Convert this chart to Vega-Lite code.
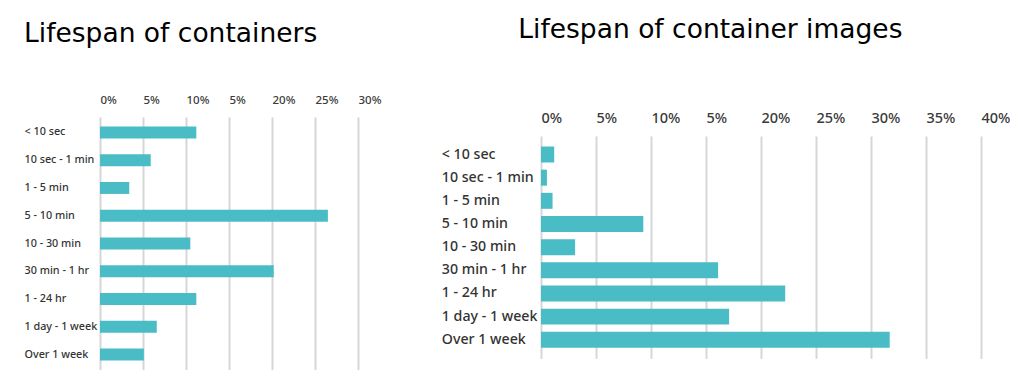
{
  "$schema": "https://vega.github.io/schema/vega-lite/v6.json",
  "padding": {"left": 24, "top": 16, "right": 0, "bottom": 0},
  "spacing": 60,
  "background": "white",
  "config": {"view": {"stroke": null}},
  "datasets": {
    "containers": [
      {"lifespan": "< 10 sec", "pct": 11.2},
      {"lifespan": "10 sec - 1 min", "pct": 5.9},
      {"lifespan": "1 - 5 min", "pct": 3.4},
      {"lifespan": "5 - 10 min", "pct": 26.5},
      {"lifespan": "10 - 30 min", "pct": 10.5},
      {"lifespan": "30 min - 1 hr", "pct": 20.2},
      {"lifespan": "1 - 24 hr", "pct": 11.2},
      {"lifespan": "1 day - 1 week", "pct": 6.6},
      {"lifespan": "Over 1 week", "pct": 5.1}
    ],
    "images": [
      {"lifespan": "< 10 sec", "pct": 1.2},
      {"lifespan": "10 sec - 1 min", "pct": 0.54},
      {"lifespan": "1 - 5 min", "pct": 1.05},
      {"lifespan": "5 - 10 min", "pct": 9.3},
      {"lifespan": "10 - 30 min", "pct": 3.1},
      {"lifespan": "30 min - 1 hr", "pct": 16.1},
      {"lifespan": "1 - 24 hr", "pct": 22.2},
      {"lifespan": "1 day - 1 week", "pct": 17.1},
      {"lifespan": "Over 1 week", "pct": 31.7}
    ]
  },
  "hconcat": [
    {
      "title": {"text": "Lifespan of containers", "anchor": "start", "frame": "bounds", "font": "DejaVu Sans", "fontSize": 26.5, "fontWeight": "normal", "color": "#000000", "offset": 46.5},
      "width": 258,
      "height": 253,
      "data": {"name": "containers"},
      "mark": {"type": "bar", "color": "#4ABCC6"},
      "encoding": {
        "y": {
          "field": "lifespan", "type": "nominal", "sort": null,
          "scale": {"paddingInner": 0.57, "paddingOuter": 0.34},
          "axis": {"title": null, "labelAlign": "left", "labelPadding": 76, "ticks": false, "tickSize": 0, "domain": false, "labelFont": "Noto Sans", "labelFontSize": 10.8, "labelFontWeight": 500, "labelColor": "#333333"}
        },
        "x": {
          "field": "pct", "type": "quantitative",
          "scale": {"domain": [0, 30], "nice": false},
          "axis": {"orient": "top", "title": null, "values": [0, 5, 10, 15, 20, 25, 30], "labelExpr": "datum.value === 15 ? '5%' : datum.value + '%'", "labelAlign": "left", "labelFlush": false, "labelOverlap": false, "labelPadding": 12, "ticks": false, "tickSize": 0, "domain": false, "grid": true, "gridColor": "#d6d6d6", "gridWidth": 2, "labelFont": "Noto Sans", "labelFontSize": 11.5, "labelFontWeight": 500, "labelColor": "#3a3a3a"}
        }
      }
    },
    {
      "title": {"text": "Lifespan of container images", "anchor": "start", "frame": "bounds", "dx": 77, "font": "DejaVu Sans", "fontSize": 26.5, "fontWeight": "normal", "color": "#000000", "offset": 67},
      "width": 440,
      "height": 241.3,
      "data": {"name": "images"},
      "mark": {"type": "bar", "color": "#4ABCC6"},
      "encoding": {
        "y": {
          "field": "lifespan", "type": "nominal", "sort": null,
          "scale": {"paddingInner": 0.31, "paddingOuter": 0.454, "range": [19, 241.3]},
          "axis": {"title": null, "labelAlign": "left", "labelPadding": 99.7, "ticks": false, "tickSize": 0, "domain": false, "labelFont": "Noto Sans", "labelFontSize": 14.2, "labelFontWeight": 500, "labelColor": "#333333"}
        },
        "x": {
          "field": "pct", "type": "quantitative",
          "scale": {"domain": [0, 40], "nice": false},
          "axis": {"orient": "top", "offset": -19, "title": null, "values": [0, 5, 10, 15, 20, 25, 30, 35, 40], "labelExpr": "datum.value === 15 ? '5%' : datum.value + '%'", "labelAlign": "left", "labelFlush": false, "labelOverlap": false, "labelPadding": 11, "ticks": false, "tickSize": 0, "domain": false, "grid": true, "gridColor": "#d6d6d6", "gridWidth": 2, "labelFont": "Noto Sans", "labelFontSize": 14.5, "labelFontWeight": 500, "labelColor": "#3a3a3a"}
        }
      }
    }
  ]
}
